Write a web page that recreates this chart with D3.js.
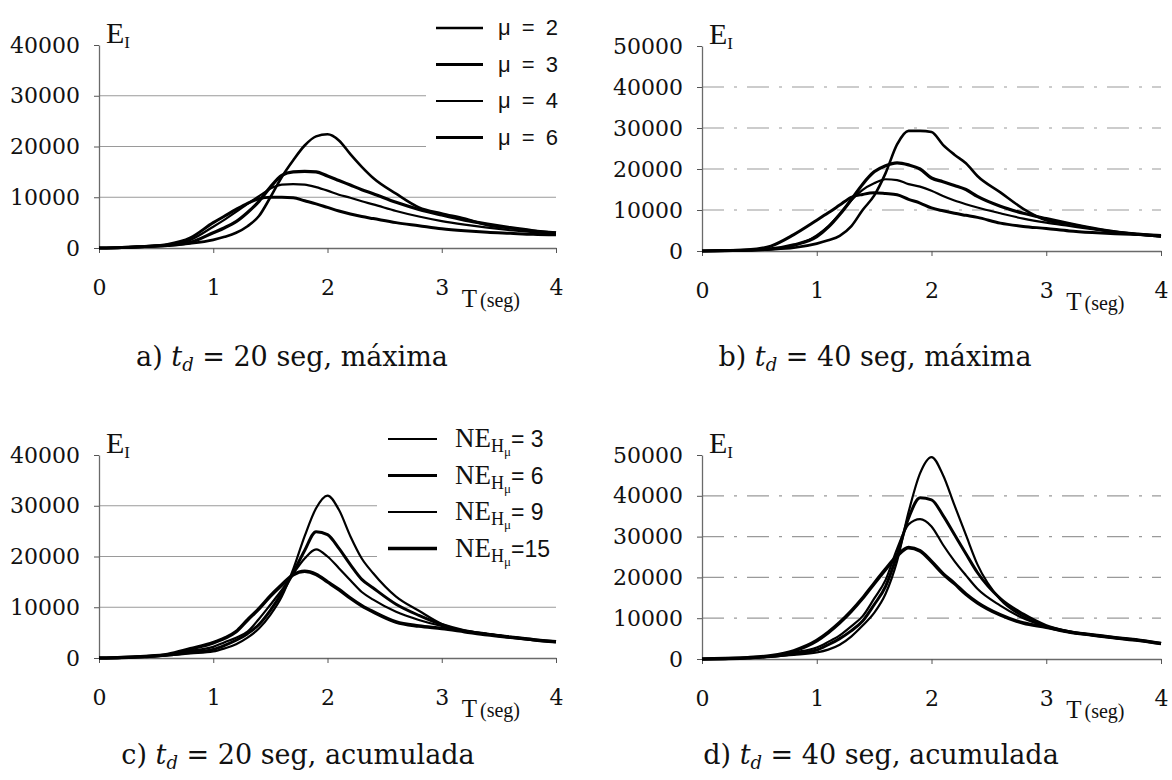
<!DOCTYPE html>
<html>
<head>
<meta charset="utf-8">
<script src="https://cdn.jsdelivr.net/npm/d3@7"></script>
<style>
  body { margin: 0; background: #fff; }
  svg { display: block; }
</style>
</head>
<body>
<div id="chart"></div>
<script>
// periodo T (seg), comun a todas las curvas
const periods = [0, 0.2, 0.4, 0.6, 0.8, 1.0, 1.1, 1.2, 1.3, 1.4, 1.5, 1.6, 1.7, 1.8, 1.9, 2.0,
                 2.1, 2.2, 2.3, 2.4, 2.6, 2.8, 3.0, 3.2, 3.4, 3.6, 3.8, 4.0];

const xTicks = [0, 1, 2, 3, 4];
const yTicks40 = [0, 10000, 20000, 30000, 40000];
const yTicks50 = [0, 10000, 20000, 30000, 40000, 50000];

const muLabels = ["2", "3", "4", "6"];
const neLabels = ["= 3", "= 6", "= 9", "=15"];

// a) td = 20 seg, maxima
const maxA_mu2 = [0, 100, 300, 500, 900, 1600, 2200, 3000, 4300, 6300, 10000, 14000, 17300, 20200, 22000, 22400, 21200, 18500, 16000, 13800, 10700, 8000, 6800, 5800, 4500, 3900, 3400, 3000];
const maxA_mu3 = [0, 100, 300, 500, 1100, 3000, 4000, 5200, 7000, 9200, 12000, 14300, 15000, 15100, 15000, 14200, 13300, 12400, 11500, 10700, 9000, 7600, 6500, 5500, 4700, 4000, 3400, 3000];
const maxA_mu4 = [0, 100, 300, 600, 1600, 4200, 5600, 7100, 8700, 10200, 11700, 12500, 12600, 12500, 12000, 11300, 10500, 9900, 9200, 8600, 7300, 6200, 5300, 4600, 4000, 3500, 3100, 2800];
const maxA_mu6 = [0, 100, 300, 700, 2000, 5000, 6300, 7600, 8800, 9700, 10000, 10000, 9900, 9300, 8700, 8000, 7300, 6700, 6200, 5800, 5000, 4400, 3800, 3400, 3100, 2900, 2700, 2600];

// b) td = 40 seg, maxima
const maxB_mu2 = [0, 100, 200, 400, 800, 1800, 2600, 3700, 6000, 10000, 13500, 19000, 26000, 29300, 29300, 29000, 25900, 23500, 21400, 18300, 14300, 10300, 7500, 6600, 5500, 4700, 4100, 3600];
const maxB_mu3 = [0, 100, 200, 500, 1500, 3500, 5800, 8900, 12500, 16300, 19300, 20800, 21500, 21000, 20000, 17800, 16900, 16000, 15000, 13300, 10900, 9200, 7900, 6700, 5600, 4700, 4100, 3600];
const maxB_mu4 = [0, 100, 200, 500, 1300, 3800, 6000, 9000, 12300, 14900, 16500, 17500, 17300, 16300, 15700, 14700, 13400, 12300, 11400, 10600, 9200, 7900, 6900, 6100, 5300, 4600, 4000, 3500];
const maxB_mu6 = [0, 100, 300, 1200, 4000, 7500, 9300, 11200, 13100, 13800, 14200, 14000, 13700, 12600, 11700, 10500, 9800, 9200, 8700, 8200, 6800, 6000, 5500, 4900, 4500, 4200, 4000, 3800];

// c) td = 20 seg, acumulada
const accC_ne3  = [0, 100, 300, 500, 900, 1300, 1900, 2700, 4000, 5800, 8500, 12100, 17500, 24000, 29500, 32000, 29200, 24000, 19600, 16700, 12100, 9300, 6700, 5300, 4700, 4100, 3600, 3200];
const accC_ne6  = [0, 100, 300, 600, 1100, 1700, 2500, 3500, 4800, 6600, 9400, 12800, 16800, 21200, 24900, 24300, 21600, 18400, 15500, 13800, 10600, 8400, 6600, 5400, 4700, 4100, 3600, 3200];
const accC_ne9  = [0, 100, 300, 600, 1400, 2200, 3100, 4000, 5200, 7700, 10500, 13400, 16600, 19600, 21400, 20000, 17700, 15300, 13000, 11500, 9100, 7500, 6300, 5400, 4700, 4100, 3600, 3200];
const accC_ne15 = [0, 100, 300, 700, 1800, 3000, 3900, 5200, 7500, 9700, 12200, 14400, 16400, 17100, 16500, 15000, 13500, 11800, 10300, 9100, 7100, 6300, 5800, 5200, 4600, 4100, 3600, 3200];

// d) td = 40 seg, acumulada
const accD_ne3  = [0, 100, 300, 600, 1000, 1600, 2300, 3500, 5500, 8200, 11300, 16000, 24000, 36000, 45500, 49500, 45100, 37700, 30400, 23200, 14600, 10400, 7800, 6600, 5900, 5200, 4600, 3800];
const accD_ne6  = [0, 100, 300, 600, 1300, 2200, 3500, 5000, 6900, 9300, 13300, 17800, 25500, 34500, 39500, 39000, 35200, 30500, 25800, 21200, 14800, 11000, 8200, 6700, 5900, 5200, 4600, 3800];
const accD_ne9  = [0, 100, 300, 700, 1600, 2800, 4200, 5800, 8000, 10500, 14800, 19400, 27000, 33000, 34300, 32500, 28000, 24000, 20500, 17200, 13100, 10000, 8000, 6700, 5900, 5200, 4600, 3800];
const accD_ne15 = [0, 100, 300, 800, 2000, 4500, 6500, 8900, 11700, 14900, 18500, 22000, 25300, 27300, 26500, 23900, 20900, 18500, 15900, 13800, 10800, 8800, 7800, 6600, 5900, 5200, 4600, 3800];

const W = 1172, H = 780;
const serif = "'DejaVu Serif', 'Liberation Serif', serif";
const times = "'Liberation Serif', 'Times New Roman', serif";
const sans = "'Liberation Sans', Arial, sans-serif";

const svg = d3.select("#chart").append("svg")
    .attr("width", W)
    .attr("height", H);

const panels = [
    { x0: 99, x1: 556, y0: 248, y1: 45, ymax: 40000, ticks: yTicks40, dashed: false,
      series: [maxA_mu2, maxA_mu3, maxA_mu4, maxA_mu6], widths: [2.6, 3.2, 2.2, 3.0],
      legend: "mu", caption: ["a) ", "20 seg, máxima"], cx: 292, cy: 366 },
    { x0: 702, x1: 1161, y0: 251, y1: 46, ymax: 50000, ticks: yTicks50, dashed: true,
      series: [maxB_mu2, maxB_mu3, maxB_mu4, maxB_mu6], widths: [2.6, 3.2, 2.2, 3.0],
      legend: null, caption: ["b) ", "40 seg, máxima"], cx: 875, cy: 366 },
    { x0: 99, x1: 556, y0: 658, y1: 455, ymax: 40000, ticks: yTicks40, dashed: false,
      series: [accC_ne3, accC_ne6, accC_ne9, accC_ne15], widths: [2.2, 3.0, 2.2, 3.6],
      legend: "ne", caption: ["c) ", "20 seg, acumulada"], cx: 298, cy: 764 },
    { x0: 702, x1: 1161, y0: 659, y1: 455, ymax: 50000, ticks: yTicks50, dashed: true,
      series: [accD_ne3, accD_ne6, accD_ne9, accD_ne15], widths: [2.2, 3.0, 2.2, 3.6],
      legend: null, caption: ["d) ", "40 seg, acumulada"], cx: 881, cy: 764 }
];

panels.forEach(drawPanel);

function drawPanel(p) {
    const x = d3.scaleLinear().domain([0, 4]).range([p.x0, p.x1]);
    const y = d3.scaleLinear().domain([0, p.ymax]).range([p.y0, p.y1]);
    const g = svg.append("g");

    // lineas de cuadricula
    g.append("g")
        .selectAll("line")
        .data(p.ticks.filter(t => t > 0 && t < p.ymax))
        .join("line")
        .attr("x1", x(0)).attr("x2", x(4))
        .attr("y1", d => y(d)).attr("y2", d => y(d))
        .attr("stroke", "#9a9a9a")
        .attr("stroke-width", 1.2)
        .attr("stroke-dasharray", p.dashed ? "22,10,3,10" : null);

    // ejes
    const yAxis = g.append("g")
        .attr("transform", `translate(${x(0)},0)`)
        .call(d3.axisLeft(y).tickValues(p.ticks).tickSize(5).tickSizeOuter(0).tickPadding(14).tickFormat(d3.format("d")));
    const xAxis = g.append("g")
        .attr("transform", `translate(0,${y(0)})`)
        .call(d3.axisBottom(x).tickValues(xTicks).tickSize(5).tickSizeOuter(0).tickPadding(26).tickFormat(d3.format("d")));

    [yAxis, xAxis].forEach(a => {
        a.select(".domain").attr("stroke", "#6a6a6a").attr("stroke-width", 1.3);
        a.selectAll(".tick line").attr("stroke", "#555");
        a.selectAll("text")
            .attr("fill", "#111")
            .style("font-family", serif)
            .style("font-size", "22px");
    });

    // curvas
    const line = d3.line()
        .x((d, i) => x(periods[i]))
        .y(d => y(d))
        .curve(d3.curveMonotoneX);

    g.append("g")
        .selectAll("path")
        .data(p.series)
        .join("path")
        .attr("d", line)
        .attr("fill", "none")
        .attr("stroke", "#000")
        .attr("stroke-linejoin", "round")
        .attr("stroke-width", (d, i) => p.widths[i]);

    // E_I
    const ei = g.append("text")
        .attr("x", x(0) + 7)
        .attr("y", p.y1 - 2)
        .style("font-family", times)
        .style("font-size", "30px")
        .attr("fill", "#111")
        .text("E");
    ei.append("tspan").attr("dy", 5).style("font-size", "17px").text("I");

    // T (seg)
    const tl = g.append("text")
        .attr("x", x(3) + 20)
        .attr("y", p.y0 + 59)
        .style("font-family", times)
        .style("font-size", "25px")
        .attr("fill", "#111")
        .text("T");
    tl.append("tspan").attr("dx", 3).style("font-size", "20px").text("(seg)");

    if (p.legend) drawLegend(g, p);

    // titulo
    const cap = svg.append("text")
        .attr("x", p.cx)
        .attr("y", p.cy)
        .attr("text-anchor", "middle")
        .style("font-family", serif)
        .style("font-size", "27px")
        .attr("fill", "#111")
        .text(p.caption[0]);
    cap.append("tspan").style("font-style", "italic").text("t");
    cap.append("tspan").style("font-style", "italic").style("font-size", "18px").attr("dy", 5).text("d");
    cap.append("tspan").attr("dy", -5).text(" = " + p.caption[1]);
}

function drawLegend(g, p) {
    const isMu = p.legend === "mu";
    const lx0 = isMu ? 436 : 388;
    const lx1 = isMu ? 483 : 437;
    const ly0 = isMu ? 28 : 439;
    const step = 36.5;
    const labels = isMu ? muLabels : neLabels;

    g.append("rect")
        .attr("x", isMu ? 426 : 377)
        .attr("y", ly0 - 20)
        .attr("width", 560 - (isMu ? 426 : 377))
        .attr("height", 4 * step + 8)
        .attr("fill", "#fff");

    const items = g.append("g")
        .selectAll("g")
        .data(labels)
        .join("g")
        .attr("transform", (d, i) => `translate(0,${ly0 + i * step})`);

    items.append("line")
        .attr("x1", lx0).attr("x2", lx1)
        .attr("stroke", "#000")
        .attr("stroke-width", (d, i) => p.widths[i]);

    if (isMu) {
        items.append("text")
            .attr("x", 498)
            .attr("y", 7)
            .style("font-family", sans)
            .style("font-size", "22px")
            .style("word-spacing", "5px")
            .attr("fill", "#111")
            .text(d => "\u03bc = " + d);
    } else {
        const t = items.append("text")
            .attr("x", 455)
            .attr("y", 8)
            .style("font-family", times)
            .style("font-size", "27px")
            .attr("fill", "#111")
            .text("NE");
        t.append("tspan").attr("dy", 5).style("font-size", "18px").text("H");
        t.append("tspan").attr("dy", 4).style("font-size", "13px").text("\u03bc");
        t.append("tspan").attr("dy", -9).style("font-family", sans).style("font-size", "23px").text(d => d);
    }
}
</script>
</body>
</html>
